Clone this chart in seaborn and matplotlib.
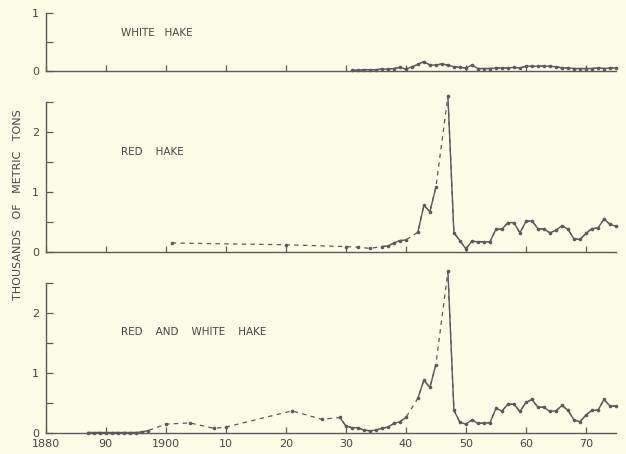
import matplotlib
matplotlib.use("Agg")
import matplotlib.pyplot as plt
import pandas as pd
import seaborn as sns

# Hake landings, thousands of metric tons
white_years = list(range(1931, 1976))
white_tons = [0.01, 0.01, 0.02, 0.02, 0.02, 0.03, 0.03, 0.04, 0.06, 0.03,
              0.07, 0.11, 0.16, 0.10, 0.10, 0.12, 0.10, 0.07, 0.06, 0.05,
              0.10, 0.04, 0.04, 0.04, 0.05, 0.05, 0.05, 0.06, 0.05, 0.08,
              0.08, 0.08, 0.08, 0.08, 0.07, 0.05, 0.05, 0.04, 0.04, 0.04,
              0.04, 0.05, 0.04, 0.05, 0.05]

red_years = [1901, 1920, 1930, 1932, 1934, 1936, 1937, 1938, 1939, 1940,
             1942, 1943, 1944, 1945] + list(range(1947, 1976))
red_tons = [0.15, 0.12, 0.09, 0.08, 0.06, 0.09, 0.10, 0.15, 0.19, 0.20,
            0.33, 0.78, 0.67, 1.08,
            2.60, 0.32, 0.19, 0.05, 0.18, 0.17, 0.17, 0.17, 0.38, 0.38,
            0.49, 0.49, 0.32, 0.51, 0.52, 0.39, 0.38, 0.32, 0.36, 0.44,
            0.38, 0.22, 0.21, 0.31, 0.39, 0.40, 0.55, 0.46, 0.43]

both_years = (list(range(1887, 1898)) + [1900, 1904, 1908, 1910, 1921, 1926]
              + list(range(1929, 1941)) + [1942, 1943, 1944, 1945]
              + list(range(1947, 1976)))
both_tons = [0.01, 0.01, 0.01, 0.01, 0.01, 0.01, 0.01, 0.01, 0.01, 0.02, 0.04,
             0.15, 0.17, 0.08, 0.10, 0.37, 0.23,
             0.26, 0.12, 0.09, 0.09, 0.05, 0.04, 0.05, 0.08, 0.10, 0.16, 0.19, 0.26,
             0.58, 0.88, 0.76, 1.14,
             2.69, 0.38, 0.18, 0.15, 0.22, 0.16, 0.17, 0.17, 0.41, 0.37,
             0.48, 0.48, 0.36, 0.51, 0.56, 0.43, 0.43, 0.36, 0.37, 0.46,
             0.38, 0.22, 0.19, 0.30, 0.38, 0.38, 0.56, 0.45, 0.45]

panel_titles = ["WHITE   HAKE", "RED    HAKE", "RED    AND    WHITE    HAKE"]
decade_ticks = list(range(1880, 1980, 10))
decade_labels = ["1880", "90", "1900", "10", "20", "30", "40", "50", "60", "70"]

paper = "#fcfce7"
ink = "#5a5a5a"
text_ink = "#454545"

sns.set_theme(style="ticks")
plt.rcParams.update({
    "font.family": ["DejaVu Sans"],
    "axes.edgecolor": ink,
    "axes.linewidth": 1.0,
    "xtick.color": ink,
    "ytick.color": ink,
    "xtick.labelcolor": text_ink,
    "ytick.labelcolor": text_ink,
    "figure.facecolor": paper,
    "axes.facecolor": paper,
})

fig = plt.figure(figsize=(6.26, 4.54), dpi=100)
ax_w = fig.add_axes([0.073, 0.844, 0.911, 0.127])
ax_r = fig.add_axes([0.073, 0.445, 0.911, 0.330])
ax_b = fig.add_axes([0.073, 0.046, 0.911, 0.331])


def draw_series(ax, years, tons):
    df = pd.DataFrame({"year": years, "tons": tons})
    # consecutive years form one solid run; missing years are bridged by dashes
    df["run"] = (df["year"].diff() != 1).cumsum()
    sns.lineplot(data=df, x="year", y="tons", ax=ax, estimator=None,
                 color=ink, linewidth=0.9, linestyle=(0, (3.5, 3.5)),
                 legend=False, clip_on=False)
    sns.lineplot(data=df, x="year", y="tons", units="run", estimator=None,
                 ax=ax, color=ink, linewidth=1.0, marker="o", markersize=2.6,
                 markeredgewidth=0, legend=False, clip_on=False)


for ax, (yrs, vals), title, ymax in zip(
        [ax_w, ax_r, ax_b],
        [(white_years, white_tons), (red_years, red_tons), (both_years, both_tons)],
        panel_titles, [1.0, 2.5, 2.5]):
    draw_series(ax, yrs, vals)
    ax.set_xlim(1880, 1975)
    ax.set_ylim(0, ymax)
    sns.despine(ax=ax)
    ax.spines["left"].set_bounds(0, ymax)
    ax.set_xlabel("")
    ax.set_ylabel("")
    ax.set_xticks(decade_ticks)
    if ymax > 1:
        ax.set_yticks([0, 1, 2])
        ax.set_yticks([0.5, 1.5, 2.5], minor=True)
    else:
        ax.set_yticks([0, 1])
        ax.set_yticks([0.5], minor=True)
    ax.set_yticklabels([str(int(t)) for t in ax.get_yticks()])
    ax.tick_params(axis="both", which="both", direction="in", length=4,
                   width=0.9, labelsize=8, pad=5)
    ax.tick_params(axis="y", which="both", length=5)
    ax.text(1892.5, ymax * (0.67 if ymax > 1 else 0.66), title,
            fontsize=7.5, color=text_ink, va="center", ha="left")

for ax in (ax_w, ax_r):
    ax.set_xticklabels([])

ax_b.set_xticklabels(decade_labels)
ax_b.tick_params(axis="x", pad=4)

fig.text(0.028, 0.55, "THOUSANDS   OF   METRIC   TONS", rotation=90,
         fontsize=8, color=text_ink, ha="center", va="center")

fig.savefig("out.png", dpi=100, facecolor=paper)
